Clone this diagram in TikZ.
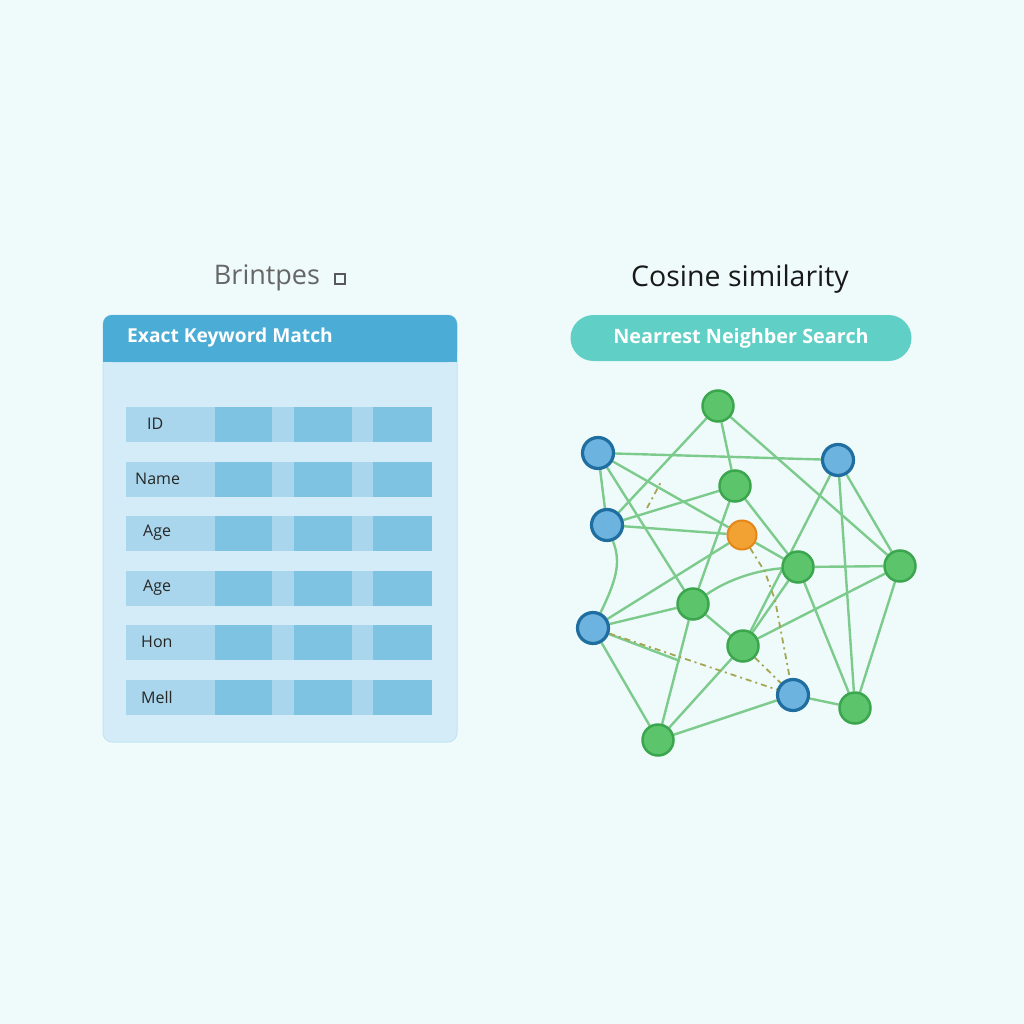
\documentclass[tikz,border=0pt]{standalone}
\usepackage{fontspec}
\setmainfont{Open Sans}
\usetikzlibrary{backgrounds}
\definecolor{bgmint}{HTML}{EEFBFA}
\definecolor{headblue}{HTML}{4BADD6}
\definecolor{panelbody}{HTML}{D3ECF8}
\definecolor{panelrim}{HTML}{C4E4F3}
\definecolor{cellpale}{HTML}{A9D6EC}
\definecolor{celldark}{HTML}{7FC3E2}
\definecolor{pillteal}{HTML}{60CFC6}
\definecolor{linkgreen}{HTML}{7DCB8C}
\definecolor{linkolive}{HTML}{A6A553}
\definecolor{greenfill}{HTML}{5CC56C}
\definecolor{greenrim}{HTML}{3CA64F}
\definecolor{bluefill}{HTML}{6CB3E0}
\definecolor{bluerim}{HTML}{1F6E9F}
\definecolor{orangefill}{HTML}{F2A233}
\definecolor{orangerim}{HTML}{E5861A}

\begin{document}
\begin{tikzpicture}[x=1pt,y=1pt,yscale=-1,
  gnode/.style={circle,minimum size=31pt,inner sep=0pt,fill=greenfill,draw=greenrim,line width=2.5pt},
  bnode/.style={circle,minimum size=31pt,inner sep=0pt,fill=bluefill,draw=bluerim,line width=3.2pt},
  onode/.style={circle,minimum size=29pt,inner sep=0pt,fill=orangefill,draw=orangerim,line width=2pt},
  link/.style={draw=linkgreen,line width=2.4pt},
  dashlink/.style={draw=linkolive,line width=1.8pt,dash pattern=on 6pt off 4pt on 2pt off 4pt},
  rowlabel/.style={anchor=west,inner sep=0pt,font=\fontsize{16}{16}\selectfont,text=black!85}]

% background
\begin{scope}[on background layer]
\fill[bgmint] (0,0) rectangle (1024,1024);
\end{scope}

%Shape: table panel
\filldraw[fill=panelbody,draw=panelrim,line width=1pt,rounded corners=9] (103,315) rectangle (457,742);
\fill[headblue,rounded corners=9] (103,315) rectangle (457,362);
\fill[headblue] (103,345) rectangle (457,362);

% rows of the table
\foreach \y/\lab/\lx [count=\i] in {424/ID/147,479/Name/135,533/Age/143,588/Age/143,642/Hon/141,697/Mell/141}{
  \fill[cellpale] (126,\y-17.5) rectangle (432,\y+17.5);
  \foreach \a/\b in {215/272,294/352,373/432}
    \fill[celldark] (\a,\y-17.5) rectangle (\b,\y+17.5);
  \node[rowlabel] (row\i) at (\lx,\y) {\lab};
}

% Text Node
\node[anchor=west,inner sep=0pt,font=\fontsize{19.2}{19.2}\selectfont\bfseries,text=white] (head) at (127,338) {Exact Keyword Match};
% Text Node
\node[inner sep=0pt,font=\fontsize{27}{27}\selectfont,text=black!60] (ltitle) at (267,278) {Brintpes};
\node[draw=black!65,line width=1.6pt,minimum size=10pt,inner sep=0pt] (licon) at (340,279) {};
% Text Node
\node[inner sep=0pt,font=\fontsize{28.5}{28.5}\selectfont,text=black!90] (rtitle) at (740,279) {Cosine similarity};

%Shape: pill
\node[fill=pillteal,rounded corners=23pt,minimum width=341pt,minimum height=46pt,inner sep=0pt,
  font=\fontsize{19.8}{19.8}\selectfont\bfseries,text=white] (pill) at (741,338) {Nearrest Neighber Search};

% graph nodes
\node[gnode] (g1) at (718,406) {};
\node[bnode] (b1) at (598,453) {};
\node[bnode] (b2) at (838,460) {};
\node[gnode] (g2) at (735,486) {};
\node[bnode] (b3) at (607,525) {};
\node[onode] (o) at (742,535) {};
\node[gnode] (g3) at (798,567) {};
\node[gnode] (g4) at (900,566) {};
\node[gnode] (g5) at (693,604) {};
\node[bnode] (b4) at (593,628) {};
\node[gnode] (g6) at (743,646) {};
\node[bnode] (b5) at (793,695) {};
\node[gnode] (g7) at (855,708) {};
\node[gnode] (g8) at (658,740) {};
\coordinate (d1) at (647,508);
\coordinate (d2) at (661,482);
\coordinate (d3) at (765,572);
\coordinate (d4) at (775,600);
\coordinate (s1) at (680,661);

% connectors
\begin{scope}[on background layer]
\foreach \p/\q in {g1/b3,g1/g2,g1/g4,b1/b2,b1/b3,b1/o,b1/g5,b3/g2,b3/o,g2/g5,g2/g3,o/b4,o/g3,
  b2/g6,b2/g7,b2/g4,g3/g4,g3/g7,g4/g7,g4/g6,g5/g6,g5/b4,g5/g8,b4/g8,g6/g8,g6/g3,g8/b5,b5/g7}
  \draw[link] (\p) -- (\q);
\draw[link] (b3) .. controls (620,560) and (619,575) .. (b4);
\draw[link] (g3) .. controls (760,570) and (730,578) .. (g5);
\draw[link] (b4) -- (s1);
\draw[dashlink] (b4) -- (b5);
\draw[dashlink] (g6) -- (b5);
\draw[dashlink] (o) -- (d3) -- (d4) -- (b5);
\draw[dashlink] (d1) -- (d2);
\end{scope}
\end{tikzpicture}
\end{document}
